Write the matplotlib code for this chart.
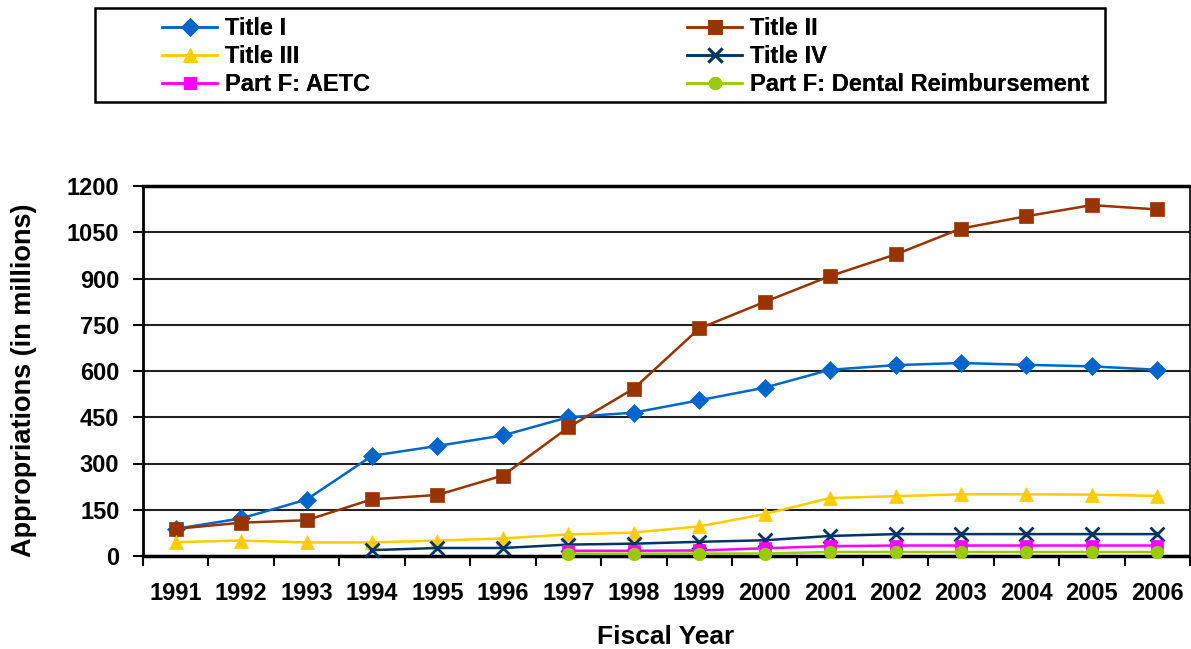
import matplotlib
matplotlib.use("Agg")
import matplotlib.pyplot as plt
from matplotlib.patches import Rectangle
import numpy as np

plt.rcParams['font.family'] = ['Liberation Sans', 'DejaVu Sans']
plt.rcParams['font.weight'] = 'bold'

years = list(range(1991, 2007))
title1 = [88, 122, 183, 325, 357, 391, 450, 465, 505, 546, 604, 619, 626, 620, 615, 604]
title2 = [88, 108, 116, 184, 198, 261, 417, 543, 738, 824, 908, 978, 1062, 1102, 1138, 1124]
title3 = [45, 50, 44, 44, 50, 57, 70, 76, 96, 136, 188, 194, 200, 200, 199, 195]
title4 = [None, None, None, 19, 26, 26, 37, 40, 46, 51, 65, 71, 71, 71, 71, 71]
aetc = [None] * 6 + [17, 17, 18, 25, 32, 34, 34, 34, 34, 34]
dental = [None] * 6 + [7.5, 7.5, 7.8, 8, 13, 13, 13, 13, 13, 13]

def arr(v):
    return np.array([np.nan if a is None else a for a in v], dtype=float)

W, H = 1191, 649
AX_L, AX_R, AX_T, AX_B = 143, 1190, 186, 556
fig = plt.figure(figsize=(W / 100, H / 100), dpi=100)
ax = fig.add_axes([AX_L / W, 1 - AX_B / H, (AX_R - AX_L) / W, (AX_B - AX_T) / H])

x = np.arange(len(years))
series = [
    ("Title I", title1, '#0066CC', 'D', 9),
    ("Title II", title2, '#993300', 's', 9.5),
    ("Title III", title3, '#FFCC00', '^', 10.5),
    ("Title IV", title4, '#003366', 'x', 10),
    ("Part F: AETC", aetc, '#FF00FF', 's', 9),
    ("Part F: Dental Reimbursement", dental, '#99CC00', 'o', 9),
]
handles = []
for name, vals, col, mk, ms in series:
    h, = ax.plot(x, arr(vals), color=col, marker=mk, markersize=ms, lw=1.8,
                 markeredgewidth=2 if mk == 'x' else 0.5, markeredgecolor=col,
                 label=name, zorder=3, clip_on=False)
    handles.append(h)

ax.set_xlim(-0.5, len(years) - 0.5)
ax.set_ylim(0, 1200)
ax.set_yticks(np.arange(0, 1201, 150))
ax.set_xticks(x)
ax.set_xticklabels([str(y) for y in years])
ax.set_xticks(np.arange(-0.5, len(years), 1), minor=True)
ax.tick_params(axis='x', which='major', length=0, pad=19, labelsize=17)
ax.tick_params(axis='x', which='minor', length=7, width=1.5, direction='out')
ax.tick_params(axis='y', length=7, width=1.5, labelsize=17, pad=10)
for lab in ax.get_xticklabels() + ax.get_yticklabels():
    lab.set_fontweight('bold')
ax.yaxis.grid(True, color='#222222', lw=1.5)
ax.set_axisbelow(True)
for s in ax.spines.values():
    s.set_color('black')
    s.set_linewidth(1.2)
ax.spines['left'].set_linewidth(2)
ax.spines['bottom'].set_linewidth(2.5)
ax.spines['top'].set_linewidth(2.5)

axw, axh = AX_R - AX_L, AX_B - AX_T
ax.set_ylabel("Appropriations (in millions)", fontsize=19.5, fontweight='bold', va='center')
ax.yaxis.set_label_coords((24 - AX_L) / axw, (AX_B - 380) / axh)
ax.set_xlabel("Fiscal Year", fontsize=19, fontweight='bold', va='center')
ax.xaxis.set_label_coords((666 - AX_L) / axw, (AX_B - 637) / axh)

# legend box and two columns
fig.patches.append(Rectangle((95 / W, 1 - 102 / H), 1010 / W, 94 / H,
                             transform=fig.transFigure, fill=False,
                             edgecolor='black', lw=1.8))
cols = [([0, 2, 4], 162), ([1, 3, 5], 687)]
for idx, xpx in cols:
    leg = fig.legend([handles[i] for i in idx], [series[i][0] for i in idx],
                     loc='upper left', bbox_to_anchor=(xpx / W, 1 - 17 / H),
                     frameon=False, handlelength=2.35, handletextpad=0.3,
                     borderaxespad=0, labelspacing=0.22, borderpad=0,
                     prop={'weight': 'bold', 'size': 17})
    fig.add_artist(leg)

fig.savefig("out.png", dpi=100)
